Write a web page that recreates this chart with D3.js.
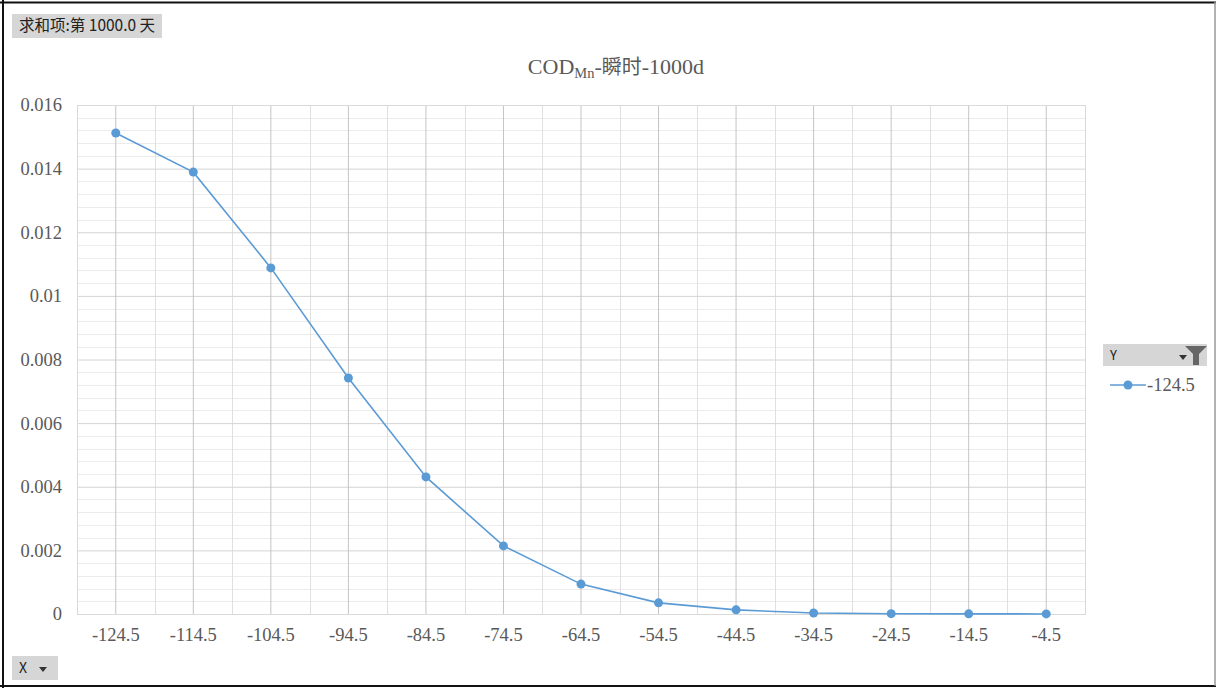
<!DOCTYPE html>
<html>
<head>
<meta charset="utf-8">
<script src="https://cdn.jsdelivr.net/npm/d3@7"></script>
<style>
  body { margin: 0; background: #fff; }
  svg { display: block; }
</style>
</head>
<body>
<div id="chart"></div>
<script>
const categories = ["-124.5", "-114.5", "-104.5", "-94.5", "-84.5", "-74.5", "-64.5",
                    "-54.5", "-44.5", "-34.5", "-24.5", "-14.5", "-4.5"];
const values = [0.01512, 0.01389, 0.01088, 0.00742, 0.00431, 0.00214, 0.00094,
                0.00035, 0.00013, 0.00003, 0.00001, 0.000005, 0.000002];
const yTicks = [0, 0.002, 0.004, 0.006, 0.008, 0.01, 0.012, 0.014, 0.016];
const seriesName = "-124.5";

const W = 1216, H = 688;
const margin = { top: 105, right: 131, bottom: 74, left: 77 };
const width = W - margin.left - margin.right;
const height = H - margin.top - margin.bottom;
const blue = "#5b9bd5";
const textGray = "#595959";
const serif = "Liberation Serif, Times New Roman, serif";

const svg = d3.select("#chart").append("svg")
    .attr("width", W)
    .attr("height", H);

// outer frame
svg.append("rect").attr("x", 0).attr("y", 0).attr("width", W).attr("height", H).attr("fill", "#fff");
svg.append("line").attr("x1", 0).attr("x2", W).attr("y1", 2.5).attr("y2", 2.5).attr("stroke", "#111").attr("stroke-width", 2);
svg.append("line").attr("x1", 0).attr("x2", W).attr("y1", 686).attr("y2", 686).attr("stroke", "#111").attr("stroke-width", 2);
svg.append("line").attr("x1", 3).attr("x2", 3).attr("y1", 0).attr("y2", H).attr("stroke", "#111").attr("stroke-width", 2);
svg.append("line").attr("x1", 1215).attr("x2", 1215).attr("y1", 2).attr("y2", 686).attr("stroke", "#999").attr("stroke-width", 1.5);

const g = svg.append("g")
    .attr("transform", `translate(${margin.left},${margin.top})`);

const x = d3.scaleBand()
    .domain(categories)
    .range([0, width]);

const y = d3.scaleLinear()
    .domain([0, 0.016])
    .range([height, 0]);

// minor horizontal grid
const minorY = d3.range(0, 0.01601, 0.0004).filter(v => !yTicks.some(t => Math.abs(t - v) < 1e-9));
g.append("g")
    .selectAll("line")
    .data(minorY)
    .join("line")
    .attr("x1", 0).attr("x2", width)
    .attr("y1", d => Math.round(y(d)) + 0.5).attr("y2", d => Math.round(y(d)) + 0.5)
    .attr("stroke", "#ececec");

// minor vertical grid (band edges)
g.append("g")
    .selectAll("line")
    .data(categories)
    .join("line")
    .attr("x1", d => Math.round(x(d)) + 0.5).attr("x2", d => Math.round(x(d)) + 0.5)
    .attr("y1", 0).attr("y2", height)
    .attr("stroke", "#e0e0e0");

// major horizontal grid
g.append("g")
    .call(d3.axisLeft(y).tickValues(yTicks).tickSize(-width).tickFormat(""))
    .call(g => g.select(".domain").remove())
    .call(g => g.selectAll("line").attr("stroke", "#d4d4d4"));

// major vertical grid at categories
g.append("g")
    .attr("transform", `translate(0,${height})`)
    .call(d3.axisBottom(x).tickSize(height).tickFormat(""))
    .call(g => g.select(".domain").remove())
    .call(g => g.selectAll("line").attr("stroke", "#c4c4c4").attr("transform", `translate(0,${-height})`));

// plot border
g.append("rect")
    .attr("x", 0.5).attr("y", 0.5)
    .attr("width", width).attr("height", height)
    .attr("fill", "none")
    .attr("stroke", "#d9d9d9");

// y axis labels
g.append("g")
    .call(d3.axisLeft(y).tickValues(yTicks).tickSize(0).tickPadding(15).tickFormat(d => d === 0 ? "0" : String(+d.toFixed(3))))
    .attr("font-family", serif)
    .attr("font-size", 18.5)
    .call(g => g.select(".domain").remove())
    .call(g => g.selectAll("text").attr("fill", textGray));

// x axis labels
g.append("g")
    .attr("transform", `translate(0,${height})`)
    .call(d3.axisBottom(x).tickSize(0).tickPadding(14))
    .attr("font-family", serif)
    .attr("font-size", 18.5)
    .call(g => g.select(".domain").remove())
    .call(g => g.selectAll("text").attr("fill", textGray));

// series
const cx = d => x(d.cat) + x.bandwidth() / 2;
const data = categories.map((c, i) => ({ cat: c, v: values[i] }));

g.append("path")
    .datum(data)
    .attr("fill", "none")
    .attr("stroke", blue)
    .attr("stroke-width", 1.6)
    .attr("d", d3.line().x(cx).y(d => y(d.v)));

g.selectAll(".dot")
    .data(data)
    .join("circle")
    .attr("class", "dot")
    .attr("cx", cx)
    .attr("cy", d => y(d.v))
    .attr("r", 4.5)
    .attr("fill", blue);

// title
const title = svg.append("text")
    .attr("x", 616)
    .attr("y", 74)
    .attr("text-anchor", "middle")
    .attr("fill", textGray)
    .attr("font-size", 22)
    .attr("font-family", serif);
title.append("tspan").text("COD");
title.append("tspan").attr("dy", 4).attr("font-size", 14.5).text("Mn");
title.append("tspan").attr("dy", -4).text("-");
title.append("tspan").attr("font-family", "Noto Sans CJK SC, sans-serif").attr("font-size", 20).text("瞬时");
title.append("tspan").text("-1000d");

// field buttons
function fieldButton(bx, by, bw, bh, label, fs) {
  const b = svg.append("g").attr("transform", `translate(${bx},${by})`);
  b.append("rect").attr("width", bw).attr("height", bh).attr("fill", "#d6d6d6");
  b.append("text")
      .attr("x", 7).attr("y", bh / 2 + 5)
      .attr("fill", "#222")
      .attr("font-size", fs)
      .attr("font-family", "Noto Sans CJK SC, Noto Sans, sans-serif")
      .text(label);
  return b;
}

fieldButton(12, 14, 150, 24, "求和项:第 1000.0 天", 15.5);

const xb = fieldButton(12, 656, 46, 24, "X", 14);
xb.append("path").attr("d", "M27,11 L35,11 L31,16 Z").attr("fill", "#333");

const yb = fieldButton(1103, 344, 104, 22, "Y", 13);
yb.append("path").attr("d", "M76,11 L84,11 L80,16 Z").attr("fill", "#333");
yb.append("path").attr("d", "M82,2 L104,2 L96,10 L96,21 L90,21 L90,10 Z").attr("fill", "#666");

// legend
const lg = svg.append("g").attr("transform", "translate(1110,385)");
lg.append("line").attr("x1", 0).attr("x2", 36).attr("y1", 0).attr("y2", 0).attr("stroke", blue).attr("stroke-width", 1.6);
lg.append("circle").attr("cx", 18).attr("cy", 0).attr("r", 4.5).attr("fill", blue);
lg.append("text")
    .attr("x", 37).attr("y", 6)
    .attr("fill", textGray)
    .attr("font-size", 18.5)
    .attr("font-family", serif)
    .text(seriesName);
</script>
</body>
</html>
